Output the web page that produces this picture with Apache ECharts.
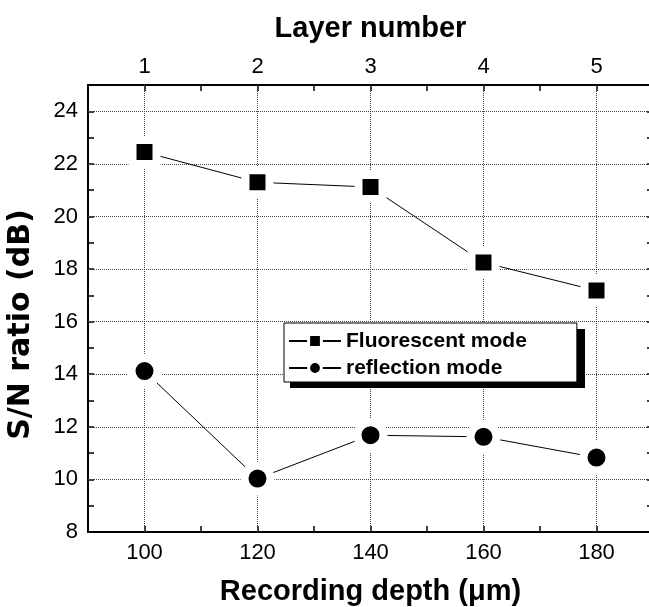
<!DOCTYPE html>
<html>
<head>
<meta charset="utf-8">
<script src="https://cdn.jsdelivr.net/npm/echarts@6/dist/echarts.min.js"></script>
<style>
  html, body { margin: 0; padding: 0; background: #fff; }
  #chart { width: 649px; height: 607px; }
</style>
</head>
<body>
<div id="chart"></div>
<script>
// recording depth (um) and the matching layer numbers
const depths = [100, 120, 140, 160, 180]
const layers = [1, 2, 3, 4, 5]
const fluorescent = [22.45, 21.3, 21.12, 18.25, 17.18]
const reflection = [14.12, 10.03, 11.68, 11.62, 10.83]
// gridline positions
const xGrid = [100, 120, 140, 160, 180]
const yGrid = [10, 12, 14, 16, 18, 20, 22, 24]

const font = '"Liberation Sans", Arial, Helvetica, sans-serif'
const wideFont = '"DejaVu Sans", sans-serif'

const chart = echarts.init(document.getElementById('chart'))

const tickStyle = { show: true, inside: true, length: 6, lineStyle: { color: '#000', width: 1.5 } }
const lineStyle = { show: true, lineStyle: { color: '#000', width: 2 } }

const gridLines = [
  ...xGrid.map(v => ({ xAxis: v })),
  ...yGrid.map(v => ({ yAxis: v }))
]

const option = {
  animation: false,
  backgroundColor: '#fff',
  grid: { left: 88, top: 85, width: 565, height: 447, containLabel: false, outerBoundsMode: 'none' },
  // drop shadow behind the legend box
  graphic: [{
    type: 'rect',
    z: 3,
    silent: true,
    shape: { x: 290, y: 329, width: 295, height: 59 },
    style: { fill: '#000' }
  }],
  legend: {
    z: 10,
    orient: 'vertical',
    left: 284,
    top: 323,
    padding: [7, 50, 3, 4],
    itemGap: 5,
    itemWidth: 52,
    itemHeight: 16,
    backgroundColor: '#fff',
    borderColor: '#000',
    borderWidth: 1,
    borderRadius: 0,
    itemStyle: { borderColor: '#fff', borderWidth: 3 },
    textStyle: { fontFamily: font, fontSize: 21, fontWeight: 'bold', color: '#000', lineHeight: 22 },
    data: ['Fluorescent mode', 'reflection mode']
  },
  xAxis: [
    {
      type: 'value',
      position: 'bottom',
      min: 90,
      max: 190,
      interval: 10,
      name: 'Recording depth (μm)',
      nameLocation: 'middle',
      nameGap: 45,
      nameTextStyle: { fontFamily: font, fontSize: 29, fontWeight: 'bold', color: '#000' },
      axisLine: lineStyle,
      axisTick: tickStyle,
      axisLabel: {
        margin: 10,
        fontFamily: font, fontSize: 22, color: '#000',
        formatter: v => (v % 20 === 0 && v >= 100 && v <= 180) ? String(v) : ''
      },
      splitLine: { show: false }
    },
    {
      type: 'value',
      position: 'top',
      min: 0.5,
      max: 5.5,
      interval: 0.5,
      name: 'Layer number',
      nameLocation: 'middle',
      nameGap: 42,
      nameTextStyle: { fontFamily: font, fontSize: 29, fontWeight: 'bold', color: '#000' },
      axisLine: lineStyle,
      axisTick: tickStyle,
      axisLabel: {
        margin: 7,
        fontFamily: font, fontSize: 22, color: '#000',
        formatter: v => layers.includes(v) ? String(v) : ''
      },
      splitLine: { show: false }
    }
  ],
  yAxis: [
    {
      type: 'value',
      position: 'left',
      min: 8,
      max: 25,
      interval: 1,
      name: 'S/N ratio (dB)',
      nameLocation: 'middle',
      nameGap: 52,
      nameTextStyle: { fontFamily: wideFont, fontSize: 30, fontWeight: 'bold', color: '#000', padding: [0, 32, 0, 0] },
      axisLine: lineStyle,
      axisTick: tickStyle,
      axisLabel: {
        margin: 10,
        fontFamily: font, fontSize: 22, color: '#000',
        formatter: v => (v % 2 === 0 && v <= 24) ? String(v) : ''
      },
      splitLine: { show: false }
    },
    {
      type: 'value',
      position: 'right',
      min: 8,
      max: 25,
      interval: 1,
      axisLine: lineStyle,
      axisTick: tickStyle,
      axisLabel: { show: false },
      splitLine: { show: false }
    }
  ],
  series: [
    {
      name: 'Fluorescent mode',
      type: 'line',
      z: 3,
      xAxisIndex: 0,
      yAxisIndex: 0,
      data: depths.map((d, i) => [d, fluorescent[i]]),
      symbol: 'rect',
      symbolSize: 24,
      itemStyle: { color: '#000', borderColor: '#fff', borderWidth: 8 },
      lineStyle: { color: '#000', width: 1 },
      markLine: {
        z: 1,
        silent: true,
        symbol: ['none', 'none'],
        label: { show: false },
        lineStyle: { type: 'dotted', color: '#444', width: 1 },
        data: gridLines
      }
    },
    {
      name: 'reflection mode',
      type: 'line',
      z: 3,
      xAxisIndex: 0,
      yAxisIndex: 0,
      data: depths.map((d, i) => [d, reflection[i]]),
      symbol: 'circle',
      symbolSize: 26,
      itemStyle: { color: '#000', borderColor: '#fff', borderWidth: 8 },
      lineStyle: { color: '#000', width: 1 }
    }
  ]
}

chart.setOption(option)
</script>
</body>
</html>
